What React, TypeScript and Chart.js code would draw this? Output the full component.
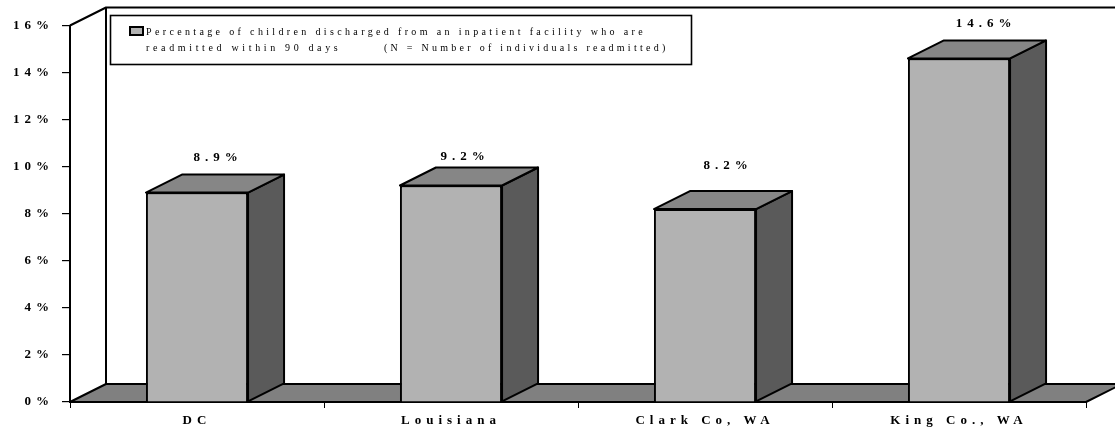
import React, { useEffect, useRef } from "react";
import { Chart, registerables } from "chart.js";

Chart.register(...registerables);

const categories = ["DC", "Louisiana", "Clark Co, WA", "King Co., WA"];
const readmissionRates = [8.9, 9.2, 8.2, 14.6];
const yTicks = [0, 2, 4, 6, 8, 10, 12, 14, 16];
const legendLine1 = "Percentage of children discharged from an inpatient facility who are";
const legendLine2a = "readmitted within 90 days";
const legendLine2b = "(N = Number of individuals readmitted)";

const DEPTH_X = 36;
const DEPTH_Y = 18;
const FRONT = "#b2b2b2";
const TOP = "#868686";
const SIDE = "#5a5a5a";
const FLOOR = "#808080";
const INK = "#000000";
const SERIF = '"Liberation Serif", serif';
const LABEL_TRACKING = "5px";

// Offset of each value label from the top-centre of its bar's front face.
const labelShiftX = [21, 14, 23, 27];
const labelShiftY = [-32, -26, -40, -31];

function poly(ctx: CanvasRenderingContext2D, pts: number[][], fill?: string) {
  ctx.beginPath();
  pts.forEach(([x, y], i) => (i ? ctx.lineTo(x, y) : ctx.moveTo(x, y)));
  ctx.closePath();
  if (fill) {
    ctx.fillStyle = fill;
    ctx.fill();
  }
  ctx.stroke();
}

// Sets the wide tracking used by axis labels before anything is measured or drawn.
const tracking = {
  id: "tracking",
  beforeLayout(chart: any) {
    chart.ctx.letterSpacing = LABEL_TRACKING;
  },
  beforeDraw(chart: any) {
    chart.ctx.letterSpacing = LABEL_TRACKING;
  },
};

// Back wall, floor and the side/top faces of each box; the front faces are the bars themselves.
const box3d = {
  id: "box3d",
  beforeDatasetsDraw(chart: any) {
    const { ctx, chartArea: a } = chart;
    ctx.save();
    ctx.strokeStyle = INK;
    ctx.lineWidth = 2;
    ctx.lineJoin = "round";

    ctx.beginPath();
    ctx.moveTo(a.left, a.top);
    ctx.lineTo(a.left + DEPTH_X, a.top - DEPTH_Y);
    ctx.lineTo(a.left + DEPTH_X, a.bottom - DEPTH_Y);
    ctx.moveTo(a.left + DEPTH_X, a.top - DEPTH_Y);
    ctx.lineTo(a.right + DEPTH_X, a.top - DEPTH_Y);
    ctx.stroke();

    poly(
      ctx,
      [
        [a.left, a.bottom],
        [a.left + DEPTH_X, a.bottom - DEPTH_Y],
        [a.right + DEPTH_X, a.bottom - DEPTH_Y],
        [a.right, a.bottom],
      ],
      FLOOR
    );

    chart.getDatasetMeta(0).data.forEach((bar: any) => {
      const l = bar.x - bar.width / 2;
      const r = bar.x + bar.width / 2;
      const t = bar.y;
      const b = bar.base;
      poly(
        ctx,
        [
          [r, t],
          [r + DEPTH_X, t - DEPTH_Y],
          [r + DEPTH_X, b - DEPTH_Y],
          [r, b],
        ],
        SIDE
      );
      poly(
        ctx,
        [
          [l, t],
          [l + DEPTH_X, t - DEPTH_Y],
          [r + DEPTH_X, t - DEPTH_Y],
          [r, t],
        ],
        TOP
      );
    });
    ctx.restore();
  },
  afterDatasetsDraw(chart: any) {
    const { ctx } = chart;
    ctx.save();

    // Value labels above each box
    ctx.fillStyle = INK;
    ctx.font = `bold 13px ${SERIF}`;
    ctx.letterSpacing = LABEL_TRACKING;
    ctx.textAlign = "center";
    ctx.textBaseline = "alphabetic";
    chart.getDatasetMeta(0).data.forEach((bar: any, i: number) => {
      ctx.fillText(`${readmissionRates[i]}%`, bar.x + labelShiftX[i], bar.y + labelShiftY[i]);
    });

    // Legend panel
    ctx.strokeStyle = INK;
    ctx.lineWidth = 1.6;
    ctx.fillStyle = "#ffffff";
    ctx.fillRect(110.5, 15.5, 581, 49);
    ctx.strokeRect(110.5, 15.5, 581, 49);
    ctx.fillStyle = FRONT;
    ctx.lineWidth = 2;
    ctx.fillRect(130, 27, 13, 8);
    ctx.strokeRect(130, 27, 13, 8);

    ctx.fillStyle = INK;
    ctx.font = `10px ${SERIF}`;
    ctx.textAlign = "left";
    ctx.letterSpacing = "3.35px";
    ctx.fillText(legendLine1, 146, 35);
    ctx.letterSpacing = "3.65px";
    ctx.fillText(legendLine2a, 146, 51);
    ctx.letterSpacing = "3.27px";
    ctx.fillText(legendLine2b, 384, 51);
    ctx.restore();
  },
};

export default function App() {
  const ref = useRef<HTMLCanvasElement>(null);

  useEffect(() => {
    document.body.style.margin = "0";
    const chart = new Chart(ref.current!, {
      type: "bar",
      data: {
        labels: categories,
        datasets: [
          {
            data: readmissionRates,
            backgroundColor: FRONT,
            borderColor: INK,
            borderWidth: 2,
            barPercentage: 0.402,
            categoryPercentage: 1,
          },
        ],
      },
      plugins: [tracking, box3d],
      options: {
        animation: false,
        responsive: false,
        layout: { padding: { top: 25.5, right: 29, bottom: 0, left: 0 } },
        plugins: { legend: { display: false }, tooltip: { enabled: false } },
        scales: {
          x: {
            afterFit: (s: any) => {
              s.height = 27;
            },
            border: { display: true, color: INK, width: 2 },
            grid: { drawOnChartArea: false, drawTicks: true, tickLength: 6, color: INK, lineWidth: 1 },
            ticks: {
              color: INK,
              padding: 5,
              maxRotation: 0,
              font: { family: SERIF, size: 13, weight: "bold" },
            },
          },
          y: {
            min: 0,
            max: 16,
            afterFit: (s: any) => {
              s.width = 70;
            },
            afterBuildTicks: (s: any) => {
              s.ticks = yTicks.map((value) => ({ value }));
            },
            border: { display: true, color: INK, width: 2 },
            grid: { drawOnChartArea: false, drawTicks: true, tickLength: 8, color: INK, lineWidth: 1.2 },
            ticks: {
              color: INK,
              padding: 8,
              callback: (v: any) => `${v}%`,
              font: { family: SERIF, size: 13, weight: "bold" },
            },
          },
        },
      },
    } as any);
    return () => chart.destroy();
  }, []);

  return (
    <div style={{ width: 1115, height: 429, background: "#fff" }}>
      <canvas ref={ref} width={1115} height={429} style={{ display: "block" }} />
    </div>
  );
}
